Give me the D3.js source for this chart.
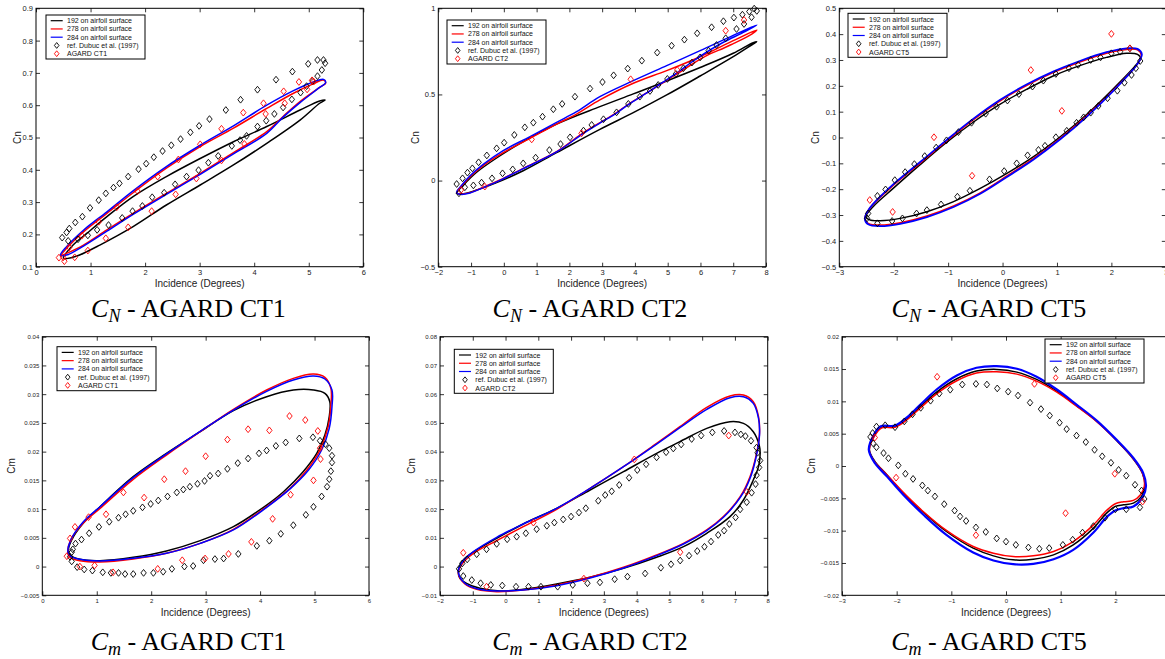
<!DOCTYPE html>
<html><head><meta charset="utf-8">
<script src="https://cdn.jsdelivr.net/npm/d3@7"></script>
<style>body{margin:0;background:#fff;overflow:hidden}svg{display:block}</style>
</head><body><svg id="c" width="1165" height="659"></svg>
<script>
// ---------------- DATA ----------------
const legendLabels = ["192 on airfoil surface","278 on airfoil surface","284 on airfoil surface","ref. Dubuc et al. (1997)"];
const caseNames = ["CT1","CT2","CT5"];

// CN - CT1
const cnCT1_xTicks = [0,1,2,3,4,5,6];
const cnCT1_yTicks = [0.1,0.2,0.3,0.4,0.5,0.6,0.7,0.8,0.9];
const cnCT1_ref = [[0.48,0.190],[0.56,0.206],[0.61,0.218],[0.72,0.237],[0.85,0.255],[0.99,0.282],[1.15,0.306],[1.28,0.327],[1.42,0.345],[1.53,0.358],[1.69,0.379],[1.88,0.402],[2.02,0.419],[2.16,0.439],[2.32,0.458],[2.48,0.476],[2.65,0.495],[2.83,0.516],[2.99,0.536],[3.18,0.557],[3.48,0.585],[3.75,0.617],[4.06,0.648],[4.40,0.679],[4.70,0.704],[4.99,0.728],[5.16,0.740],[5.27,0.740],[5.30,0.730],[5.24,0.709],[5.16,0.690],[5.07,0.675],[4.96,0.659],[4.85,0.639],[4.69,0.618],[4.53,0.593],[4.37,0.573],[4.22,0.552],[4.06,0.534],[3.86,0.505],[3.74,0.492],[3.59,0.474],[3.34,0.443],[3.16,0.422],[2.98,0.399],[2.76,0.379],[2.55,0.355],[2.35,0.329],[2.13,0.315],[1.95,0.288],[1.77,0.272],[1.58,0.251],[1.33,0.229],[1.12,0.214],[0.95,0.197],[0.77,0.185],[0.59,0.180]];
const cnCT1_agard = [[0.42,0.128],[0.52,0.117],[0.50,0.129],[0.61,0.160],[0.71,0.129],[0.84,0.196],[0.95,0.150],[1.15,0.239],[1.28,0.188],[1.48,0.284],[1.69,0.222],[1.86,0.334],[2.12,0.272],[2.23,0.379],[2.56,0.324],[2.61,0.432],[2.94,0.373],[3.01,0.479],[3.40,0.429],[3.40,0.527],[3.82,0.480],[3.80,0.577],[4.21,0.573],[4.17,0.606],[4.54,0.643],[4.56,0.606],[4.82,0.672],[4.97,0.649],[5.06,0.677],[5.09,0.673]];
const cnCT1_192 = [[0.50,0.126],[0.68,0.167],[0.93,0.203],[1.30,0.255],[1.78,0.317],[2.39,0.379],[3.01,0.435],[3.62,0.487],[4.23,0.534],[4.84,0.585],[5.20,0.613],[5.30,0.616],[5.20,0.606],[4.84,0.554],[4.23,0.482],[3.62,0.415],[3.01,0.353],[2.39,0.291],[1.78,0.224],[1.17,0.167],[0.75,0.133],[0.56,0.125]];
const cnCT1_278 = [[0.45,0.133],[0.56,0.157],[0.87,0.208],[1.30,0.265],[1.78,0.329],[2.39,0.405],[3.01,0.472],[3.62,0.529],[4.23,0.590],[4.72,0.637],[5.08,0.666],[5.27,0.678],[5.31,0.668],[5.20,0.655],[4.84,0.611],[4.53,0.565],[4.23,0.518],[3.62,0.453],[3.01,0.389],[2.39,0.327],[1.78,0.265],[1.30,0.214],[0.87,0.167],[0.56,0.141]];
const cnCT1_284 = [[0.45,0.136],[0.56,0.162],[0.87,0.213],[1.30,0.270],[1.78,0.335],[2.39,0.410],[3.01,0.476],[3.62,0.536],[4.23,0.600],[4.72,0.645],[5.08,0.672],[5.27,0.680],[5.31,0.670],[5.20,0.655],[4.84,0.608],[4.53,0.563],[4.23,0.513],[3.62,0.449],[3.01,0.386],[2.39,0.324],[1.78,0.262],[1.30,0.210],[0.87,0.164],[0.56,0.136]];

// CN - CT2
const cnCT2_xTicks = [-2,-1,0,1,2,3,4,5,6,7,8];
const cnCT2_yTicks = [-0.5,0,0.5,1];
const cnCT2_ref = [[-1.44,-0.020],[-1.26,0.013],[-1.11,0.046],[-0.96,0.071],[-0.77,0.106],[-0.52,0.146],[-0.22,0.187],[0.01,0.220],[0.32,0.265],[0.64,0.309],[0.90,0.336],[1.18,0.371],[1.51,0.414],[1.78,0.445],[2.17,0.487],[2.63,0.534],[3.01,0.572],[3.35,0.611],[3.78,0.650],[4.21,0.696],[4.68,0.743],[5.12,0.783],[5.51,0.818],[5.90,0.855],[6.34,0.890],[6.70,0.925],[7.02,0.946],[7.28,0.963],[7.49,0.981],[7.64,0.998],[7.72,0.985],[7.56,0.948],[7.33,0.909],[7.10,0.880],[6.77,0.826],[6.49,0.787],[6.25,0.754],[5.99,0.715],[5.74,0.685],[5.48,0.652],[5.25,0.619],[4.99,0.590],[4.71,0.555],[4.46,0.520],[4.15,0.487],[3.80,0.445],[3.44,0.396],[3.04,0.356],[2.68,0.323],[2.43,0.290],[2.02,0.251],[1.73,0.212],[1.39,0.177],[0.97,0.133],[0.59,0.100],[0.27,0.065],[-0.04,0.042],[-0.36,0.013],[-0.68,-0.012],[-0.93,-0.028],[-1.19,-0.039],[-1.37,-0.074]];
const cnCT2_agard = [[-1.31,-0.055],[-0.58,-0.035],[0.85,0.239],[2.37,0.274],[3.87,0.588],[5.29,0.642],[6.77,0.870],[7.33,0.932]];
const cnCT2_192 = [[-1.44,-0.074],[-1.24,-0.028],[-0.83,0.048],[-0.22,0.131],[0.59,0.226],[1.61,0.328],[2.93,0.429],[3.95,0.503],[4.97,0.578],[5.99,0.656],[7.00,0.739],[7.61,0.801],[7.72,0.806],[7.56,0.787],[7.00,0.719],[5.99,0.607],[4.97,0.497],[3.95,0.394],[2.93,0.297],[1.61,0.162],[0.59,0.057],[-0.22,-0.012],[-0.83,-0.055],[-1.29,-0.078]];
const cnCT2_278 = [[-1.44,-0.070],[-1.29,-0.032],[-1.03,0.023],[-0.63,0.087],[-0.02,0.162],[0.80,0.245],[1.61,0.328],[2.22,0.386],[2.93,0.468],[3.95,0.565],[4.97,0.638],[5.99,0.719],[7.00,0.812],[7.72,0.874],[7.46,0.838],[7.00,0.795],[6.70,0.768],[6.29,0.735],[5.68,0.668],[5.38,0.630],[4.99,0.585],[4.46,0.520],[3.80,0.443],[3.44,0.394],[3.04,0.348],[2.43,0.278],[1.61,0.168],[0.59,0.071],[-0.12,0.003],[-0.63,-0.039],[-1.03,-0.070],[-1.32,-0.078]];
const cnCT2_284 = [[-1.44,-0.070],[-1.29,-0.028],[-1.03,0.028],[-0.63,0.094],[-0.02,0.174],[0.80,0.255],[1.61,0.338],[2.22,0.400],[2.93,0.487],[3.95,0.580],[4.97,0.667],[5.99,0.754],[7.00,0.843],[7.72,0.903],[7.36,0.865],[6.70,0.803],[6.29,0.758],[5.68,0.681],[5.38,0.638],[4.99,0.588],[4.46,0.520],[3.80,0.441],[3.44,0.392],[3.04,0.346],[2.43,0.274],[1.61,0.166],[0.59,0.069],[-0.12,0.001],[-0.63,-0.041],[-1.03,-0.072],[-1.32,-0.080]];

// CN - CT5
const cnCT5_xTicks = [-3,-2,-1,0,1,2,3];
const cnCT5_yTicks = [-0.5,-0.4,-0.3,-0.2,-0.1,0,0.1,0.2,0.3,0.4,0.5];
const cnCT5_ref = [[-2.49,-0.313],[-2.47,-0.294],[-2.30,-0.226],[-2.15,-0.201],[-1.98,-0.165],[-1.79,-0.134],[-1.62,-0.103],[-1.43,-0.072],[-1.22,-0.039],[-1.03,-0.011],[-0.81,0.021],[-0.57,0.057],[-0.31,0.092],[-0.11,0.119],[0.09,0.143],[0.30,0.168],[0.55,0.197],[0.75,0.220],[0.98,0.246],[1.22,0.268],[1.39,0.281],[1.62,0.300],[1.80,0.310],[2.00,0.326],[2.16,0.332],[2.34,0.345],[2.53,0.296],[2.45,0.268],[2.37,0.242],[2.24,0.212],[2.11,0.181],[1.93,0.152],[1.76,0.122],[1.62,0.096],[1.49,0.078],[1.36,0.057],[1.18,0.026],[0.98,0.001],[0.78,-0.032],[0.66,-0.048],[0.46,-0.069],[0.26,-0.100],[0.03,-0.130],[-0.24,-0.162],[-0.60,-0.206],[-0.83,-0.229],[-1.13,-0.259],[-1.39,-0.281],[-1.58,-0.294],[-1.84,-0.313],[-2.03,-0.323],[-2.30,-0.332]];
const cnCT5_agard = [[-2.44,-0.242],[-2.02,-0.288],[-1.26,0.001],[-0.56,-0.148],[0.52,0.261],[1.09,0.103],[2.00,0.401],[2.34,0.345]];
const cnCT5_192 = [[-2.51,-0.306],[-2.38,-0.268],[-2.01,-0.197],[-1.52,-0.106],[-1.03,-0.019],[-0.54,0.059],[-0.05,0.128],[0.44,0.186],[0.93,0.238],[1.42,0.278],[1.91,0.310],[2.28,0.326],[2.48,0.322],[2.54,0.306],[2.47,0.285],[2.04,0.190],[1.55,0.090],[1.06,0.003],[0.57,-0.074],[0.08,-0.139],[-0.41,-0.197],[-0.90,-0.248],[-1.39,-0.287],[-1.88,-0.313],[-2.25,-0.322],[-2.44,-0.319]];
const cnCT5_278 = [[-2.53,-0.313],[-2.44,-0.274],[-2.07,-0.197],[-1.52,-0.100],[-1.03,-0.014],[-0.54,0.068],[-0.05,0.141],[0.44,0.201],[0.93,0.251],[1.42,0.292],[1.91,0.326],[2.28,0.341],[2.48,0.339],[2.55,0.319],[2.48,0.285],[2.04,0.184],[1.55,0.085],[1.06,-0.003],[0.57,-0.081],[0.08,-0.149],[-0.41,-0.214],[-0.90,-0.265],[-1.39,-0.304],[-1.88,-0.330],[-2.25,-0.339],[-2.47,-0.332]];
const cnCT5_284 = [[-2.53,-0.315],[-2.44,-0.273],[-2.07,-0.193],[-1.52,-0.096],[-1.03,-0.010],[-0.54,0.072],[-0.05,0.145],[0.44,0.205],[0.93,0.255],[1.42,0.296],[1.91,0.330],[2.28,0.345],[2.48,0.343],[2.56,0.322],[2.48,0.285],[2.04,0.181],[1.55,0.081],[1.06,-0.007],[0.57,-0.085],[0.08,-0.153],[-0.41,-0.218],[-0.90,-0.269],[-1.39,-0.308],[-1.88,-0.334],[-2.25,-0.343],[-2.47,-0.336]];

// Cm - CT1
const cmCT1_xTicks = [0,1,2,3,4,5,6];
const cmCT1_yTicks = [-0.005,0,0.005,0.01,0.015,0.02,0.025,0.03,0.035,0.04];
const cmCT1_ref = [[0.51,0.0017],[0.54,0.0025],[0.56,0.0030],[0.61,0.0040],[0.72,0.0047],[0.86,0.0058],[1.04,0.0069],[1.23,0.0078],[1.40,0.0085],[1.53,0.0091],[1.67,0.0097],[1.84,0.0103],[1.99,0.0109],[2.13,0.0115],[2.30,0.0122],[2.47,0.0129],[2.59,0.0134],[2.71,0.0139],[2.85,0.0144],[2.98,0.0149],[3.08,0.0158],[3.23,0.0162],[3.40,0.0170],[3.59,0.0180],[3.78,0.0188],[3.98,0.0197],[4.12,0.0202],[4.29,0.0210],[4.47,0.0216],[4.72,0.0223],[4.97,0.0225],[5.10,0.0219],[5.20,0.0213],[5.27,0.0206],[5.32,0.0193],[5.32,0.0181],[5.30,0.0166],[5.27,0.0152],[5.23,0.0139],[5.13,0.0122],[4.98,0.0104],[4.84,0.0090],[4.61,0.0072],[4.38,0.0057],[4.17,0.0045],[3.94,0.0036],[3.60,0.0022],[3.33,0.0014],[3.17,0.0013],[2.96,0.0011],[2.77,0.0001],[2.61,0.0000],[2.38,-0.0004],[2.22,-0.0009],[2.04,-0.0011],[1.86,-0.0011],[1.67,-0.0013],[1.52,-0.0013],[1.40,-0.0011],[1.26,-0.0011],[1.11,-0.0010],[0.92,-0.0007],[0.77,-0.0005],[0.64,-0.0001],[0.54,0.0009]];
const cmCT1_agard = [[0.45,0.0018],[0.51,0.0049],[0.60,0.0069],[0.69,0.0000],[0.85,0.0086],[0.96,0.0002],[1.17,0.0091],[1.30,-0.0010],[1.49,0.0129],[1.87,0.0120],[2.12,-0.0004],[2.24,0.0152],[2.57,0.0011],[2.63,0.0166],[2.99,0.0014],[3.00,0.0192],[3.42,0.0022],[3.40,0.0221],[3.84,0.0043],[3.78,0.0239],[4.23,0.0083],[4.17,0.0237],[4.56,0.0125],[4.54,0.0262],[4.83,0.0255],[4.98,0.0150],[5.06,0.0236],[5.10,0.0206],[5.11,0.0187]];
const cmCT1_192 = [[0.48,0.00289],[0.54,0.00463],[0.75,0.00753],[1.06,0.01042],[1.67,0.01564],[2.28,0.01970],[2.90,0.02347],[3.51,0.02713],[4.12,0.02956],[4.61,0.03072],[4.98,0.03072],[5.19,0.03014],[5.28,0.02869],[5.27,0.02608],[5.19,0.02289],[5.04,0.01970],[4.79,0.01651],[4.43,0.01303],[4.12,0.01071],[3.51,0.00694],[2.90,0.00451],[2.28,0.00271],[1.67,0.00161],[1.06,0.00103],[0.69,0.00126],[0.51,0.00202]];
const cmCT1_278 = [[0.47,0.00231],[0.52,0.00463],[0.75,0.00753],[1.06,0.01013],[1.67,0.01518],[2.28,0.01941],[2.90,0.02347],[3.51,0.02736],[4.12,0.03072],[4.61,0.03275],[4.98,0.03350],[5.19,0.03293],[5.30,0.03101],[5.30,0.02811],[5.25,0.02434],[5.10,0.02028],[4.86,0.01680],[4.55,0.01361],[4.12,0.01042],[3.51,0.00648],[2.90,0.00404],[2.28,0.00231],[1.67,0.00132],[1.06,0.00080],[0.69,0.00103],[0.51,0.00161]];
const cmCT1_284 = [[0.47,0.00260],[0.53,0.00474],[0.75,0.00776],[1.06,0.01042],[1.67,0.01547],[2.28,0.01959],[2.90,0.02353],[3.51,0.02724],[4.12,0.03049],[4.61,0.03246],[4.98,0.03316],[5.19,0.03264],[5.32,0.03072],[5.32,0.02782],[5.27,0.02405],[5.13,0.02028],[4.89,0.01680],[4.56,0.01361],[4.12,0.01031],[3.51,0.00637],[2.90,0.00404],[2.28,0.00231],[1.67,0.00144],[1.06,0.00097],[0.69,0.00126],[0.51,0.00184]];

// Cm - CT2
const cmCT2_xTicks = [-2,-1,0,1,2,3,4,5,6,7,8];
const cmCT2_yTicks = [-0.01,0,0.01,0.02,0.03,0.04,0.05,0.06,0.07,0.08];
const cmCT2_ref = [[-1.42,-0.0008],[-1.32,0.0011],[-1.17,0.0025],[-0.88,0.0043],[-0.58,0.0060],[-0.27,0.0079],[0.05,0.0095],[0.34,0.0104],[0.62,0.0116],[0.95,0.0130],[1.26,0.0142],[1.49,0.0153],[1.76,0.0164],[2.00,0.0174],[2.24,0.0188],[2.45,0.0203],[2.83,0.0229],[3.04,0.0249],[3.24,0.0262],[3.47,0.0284],[3.77,0.0309],[4.02,0.0336],[4.29,0.0356],[4.61,0.0380],[4.90,0.0398],[5.12,0.0411],[5.36,0.0425],[5.68,0.0444],[5.97,0.0456],[6.31,0.0467],[6.67,0.0472],[7.00,0.0467],[7.18,0.0460],[7.32,0.0454],[7.49,0.0438],[7.66,0.0414],[7.69,0.0396],[7.77,0.0369],[7.74,0.0345],[7.66,0.0318],[7.63,0.0287],[7.51,0.0257],[7.36,0.0224],[7.16,0.0199],[7.02,0.0171],[6.83,0.0148],[6.67,0.0125],[6.49,0.0110],[6.27,0.0087],[6.07,0.0069],[5.85,0.0054],[5.60,0.0038],[5.33,0.0021],[5.05,0.0008],[4.74,-0.0004],[4.26,-0.0024],[3.72,-0.0035],[3.33,-0.0044],[2.88,-0.0055],[2.50,-0.0058],[2.05,-0.0064],[1.59,-0.0070],[1.08,-0.0070],[0.70,-0.0070],[0.32,-0.0070],[-0.10,-0.0066],[-0.45,-0.0064],[-0.76,-0.0058],[-1.03,-0.0047],[-1.29,-0.0033]];
const cmCT2_agard = [[-1.29,0.0048],[-0.58,-0.0070],[0.85,0.0153],[2.39,-0.0042],[3.93,0.0373],[5.33,0.0050],[6.81,0.0456],[7.36,0.0260]];
const cmCT2_192 = [[-1.44,-0.00119],[-1.29,0.00229],[-0.88,0.00577],[-0.27,0.00983],[0.54,0.01482],[1.56,0.02027],[2.58,0.02665],[3.60,0.03303],[4.61,0.03941],[5.32,0.04347],[6.14,0.04810],[6.85,0.05042],[7.26,0.04984],[7.56,0.04694],[7.74,0.04231],[7.77,0.03941],[7.72,0.03477],[7.56,0.03013],[7.26,0.02317],[6.85,0.01737],[6.14,0.01157],[5.43,0.00693],[4.61,0.00322],[3.60,-0.00061],[2.58,-0.00374],[1.56,-0.00606],[0.54,-0.00792],[-0.17,-0.00850],[-0.78,-0.00757],[-1.19,-0.00583],[-1.39,-0.00409]];
const cmCT2_278 = [[-1.44,-0.00235],[-1.31,0.00113],[-0.98,0.00461],[-0.27,0.00902],[0.54,0.01389],[1.56,0.01992],[2.58,0.02723],[3.60,0.03477],[4.61,0.04289],[5.32,0.04868],[6.14,0.05541],[6.85,0.05936],[7.26,0.05970],[7.56,0.05738],[7.72,0.05216],[7.75,0.04636],[7.66,0.03941],[7.46,0.03129],[7.16,0.02433],[6.65,0.01737],[6.14,0.01273],[5.43,0.00809],[4.61,0.00403],[3.60,-0.00026],[2.58,-0.00374],[1.56,-0.00641],[0.54,-0.00815],[-0.27,-0.00873],[-0.88,-0.00792],[-1.24,-0.00606]];
const cmCT2_284 = [[-1.44,-0.00177],[-1.31,0.00171],[-0.98,0.00519],[-0.27,0.01018],[0.54,0.01482],[1.56,0.02027],[2.58,0.02723],[3.60,0.03477],[4.61,0.04265],[5.32,0.04834],[6.14,0.05471],[6.85,0.05878],[7.26,0.05912],[7.56,0.05680],[7.72,0.05158],[7.75,0.04579],[7.66,0.03883],[7.48,0.03129],[7.18,0.02433],[6.65,0.01714],[6.14,0.01250],[5.43,0.00786],[4.61,0.00380],[3.60,-0.00049],[2.58,-0.00397],[1.56,-0.00664],[0.54,-0.00815],[-0.27,-0.00850],[-0.88,-0.00769],[-1.24,-0.00583]];

// Cm - CT5
const cmCT5_xTicks = [-3,-2,-1,0,1,2];
const cmCT5_yTicks = [-0.02,-0.015,-0.01,-0.005,0,0.005,0.01,0.015,0.02];
const cmCT5_ref = [[-2.48,0.0045],[-2.44,0.0051],[-2.37,0.0061],[-2.21,0.0063],[-2.03,0.0060],[-1.86,0.0069],[-1.71,0.0080],[-1.56,0.0090],[-1.38,0.0101],[-1.22,0.0112],[-1.02,0.0118],[-0.80,0.0126],[-0.55,0.0127],[-0.35,0.0126],[-0.16,0.0120],[0.04,0.0115],[0.22,0.0109],[0.44,0.0098],[0.64,0.0088],[0.80,0.0078],[0.98,0.0067],[1.11,0.0057],[1.29,0.0047],[1.46,0.0037],[1.62,0.0025],[1.76,0.0015],[1.92,0.0005],[2.06,-0.0006],[2.20,-0.0015],[2.36,-0.0029],[2.48,-0.0038],[2.53,-0.0051],[2.45,-0.0064],[2.20,-0.0067],[2.00,-0.0067],[1.81,-0.0080],[1.60,-0.0093],[1.40,-0.0103],[1.22,-0.0114],[1.04,-0.0122],[0.79,-0.0127],[0.61,-0.0128],[0.41,-0.0126],[0.18,-0.0122],[0.00,-0.0117],[-0.17,-0.0112],[-0.37,-0.0102],[-0.55,-0.0095],[-0.73,-0.0085],[-0.84,-0.0078],[-0.94,-0.0069],[-1.13,-0.0059],[-1.30,-0.0047],[-1.43,-0.0038],[-1.53,-0.0030],[-1.70,-0.0020],[-1.84,-0.0012],[-1.97,0.0001],[-2.15,0.0012],[-2.24,0.0020],[-2.37,0.0029],[-2.43,0.0035]];
const cmCT5_agard = [[-2.40,0.0044],[-2.01,-0.0018],[-1.26,0.0138],[-0.55,-0.0107],[0.52,0.0127],[1.09,-0.0073],[1.99,-0.0012],[2.50,-0.0055]];
const cmCT5_192 = [[-2.50,0.00253],[-2.40,0.00486],[-2.27,0.00605],[-2.03,0.00615],[-1.83,0.00718],[-1.57,0.00915],[-1.27,0.01142],[-0.90,0.01349],[-0.54,0.01468],[-0.17,0.01494],[0.20,0.01452],[0.56,0.01339],[0.93,0.01158],[1.29,0.00935],[1.66,0.00692],[2.02,0.00398],[2.33,0.00109],[2.50,-0.00119],[2.54,-0.00315],[2.48,-0.00470],[2.33,-0.00574],[2.15,-0.00600],[2.00,-0.00625],[1.84,-0.00729],[1.60,-0.00961],[1.23,-0.01220],[0.87,-0.01375],[0.50,-0.01442],[0.13,-0.01452],[-0.23,-0.01390],[-0.60,-0.01271],[-1.09,-0.01013],[-1.51,-0.00718],[-1.88,-0.00419],[-2.18,-0.00134],[-2.40,0.00072]];
const cmCT5_278 = [[-2.50,0.00243],[-2.40,0.00470],[-2.27,0.00589],[-2.03,0.00599],[-1.83,0.00703],[-1.57,0.00894],[-1.27,0.01116],[-0.90,0.01318],[-0.54,0.01437],[-0.17,0.01457],[0.20,0.01421],[0.56,0.01313],[0.93,0.01142],[1.29,0.00925],[1.66,0.00687],[2.02,0.00398],[2.33,0.00109],[2.50,-0.00119],[2.53,-0.00315],[2.46,-0.00444],[2.33,-0.00532],[2.15,-0.00553],[2.00,-0.00584],[1.84,-0.00687],[1.60,-0.00910],[1.23,-0.01168],[0.87,-0.01323],[0.50,-0.01390],[0.13,-0.01401],[-0.23,-0.01349],[-0.60,-0.01245],[-1.09,-0.00997],[-1.51,-0.00708],[-1.88,-0.00408],[-2.18,-0.00134],[-2.40,0.00062]];
const cmCT5_284 = [[-2.51,0.00253],[-2.41,0.00496],[-2.29,0.00615],[-2.03,0.00625],[-1.83,0.00739],[-1.57,0.00946],[-1.27,0.01183],[-0.90,0.01401],[-0.54,0.01519],[-0.17,0.01545],[0.20,0.01504],[0.56,0.01380],[0.93,0.01183],[1.29,0.00951],[1.66,0.00703],[2.02,0.00408],[2.33,0.00124],[2.51,-0.00109],[2.56,-0.00315],[2.50,-0.00481],[2.33,-0.00625],[2.15,-0.00651],[2.00,-0.00687],[1.84,-0.00791],[1.60,-0.01028],[1.23,-0.01297],[0.87,-0.01442],[0.50,-0.01514],[0.13,-0.01519],[-0.23,-0.01462],[-0.60,-0.01338],[-1.09,-0.01065],[-1.51,-0.00754],[-1.88,-0.00444],[-2.18,-0.00160],[-2.40,0.00047]];

// ---------------- LAYOUT ----------------
const panels = [
  {ref:cnCT1_ref, agard:cnCT1_agard, lines:[cnCT1_192,cnCT1_278,cnCT1_284], xt:cnCT1_xTicks, yt:cnCT1_yTicks, xd:[0,6], yd:[0.1,0.9], ylab:"Cn", sub:"N", ci:0, box:[36,8.3,363.3,266.7], leg:[46,15], ylx:17, row:0, cap:188.5, bw:1.5},
  {ref:cnCT2_ref, agard:cnCT2_agard, lines:[cnCT2_192,cnCT2_278,cnCT2_284], xt:cnCT2_xTicks, yt:cnCT2_yTicks, xd:[-2,8], yd:[-0.5,1], ylab:"Cn", sub:"N", ci:1, box:[438.3,8.3,766,266.7], leg:[447,20], ylx:415, row:0, cap:590, bw:1.5},
  {ref:cnCT5_ref, agard:cnCT5_agard, lines:[cnCT5_192,cnCT5_278,cnCT5_284], xt:cnCT5_xTicks, yt:cnCT5_yTicks, xd:[-3,3], yd:[-0.5,0.5], ylab:"Cn", sub:"N", ci:2, box:[839.3,8.3,1165.8,266.7], leg:[848,13.3], ylx:815, row:0, cap:989, bw:1.8},
  {ref:cmCT1_ref, agard:cmCT1_agard, lines:[cmCT1_192,cmCT1_278,cmCT1_284], xt:cmCT1_xTicks, yt:cmCT1_yTicks, xd:[0,6], yd:[-0.005,0.04], ylab:"Cm", sub:"m", ci:0, box:[42.3,336.7,369,595.3], leg:[57,346.7], ylx:11.7, row:1, cap:188.5, bw:1.5},
  {ref:cmCT2_ref, agard:cmCT2_agard, lines:[cmCT2_192,cmCT2_278,cmCT2_284], xt:cmCT2_xTicks, yt:cmCT2_yTicks, xd:[-2,8], yd:[-0.01,0.08], ylab:"Cm", sub:"m", ci:1, box:[440,336.7,767.7,595.3], leg:[454.3,349.3], ylx:411.7, row:1, cap:590, bw:1.5},
  {ref:cmCT5_ref, agard:cmCT5_agard, lines:[cmCT5_192,cmCT5_278,cmCT5_284], xt:cmCT5_xTicks, yt:cmCT5_yTicks, xd:[-3,3], yd:[-0.02,0.02], ylab:"Cm", sub:"m", ci:2, box:[842,336.7,1170,595.3], leg:[1045,339], ylx:811.7, row:1, cap:989, bw:2.2}
];
const lineColors = ["#000000","#ff0000","#0000ff"];
const SANS = "'Liberation Sans', Arial, sans-serif";
const SERIF = "'Liberation Serif', 'Times New Roman', serif";
const fmt = v => (v < 0 ? "\u2212" : "") + String(Math.abs(v));
const diamond = "M0,-3.4L2.7,0L0,3.4L-2.7,0Z";

const svg = d3.select("#c");
svg.append("rect").attr("width",1165).attr("height",659).attr("fill","#fff");

panels.forEach(p => {
  const [L,T,R,B] = p.box;
  const x = d3.scaleLinear().domain(p.xd).range([L,R]);
  const y = d3.scaleLinear().domain(p.yd).range([B,T]);
  const g = svg.append("g");
  const tickFont = p.row === 0 ? 7.5 : 6;

  const styleAxis = sel => {
    sel.select(".domain").remove();
    sel.selectAll("line").attr("stroke","#000").attr("stroke-width",0.8);
    sel.selectAll("text").attr("font-family",SANS).attr("font-size",tickFont).attr("fill","#222");
  };
  g.append("g").attr("transform",`translate(0,${B})`)
    .call(d3.axisBottom(x).tickValues(p.xt).tickFormat(fmt).tickSizeInner(-4).tickSizeOuter(0).tickPadding(3)).call(styleAxis);
  g.append("g").attr("transform",`translate(0,${T})`)
    .call(d3.axisTop(x).tickValues(p.xt).tickFormat("").tickSizeInner(-4).tickSizeOuter(0)).call(styleAxis);
  g.append("g").attr("transform",`translate(${L},0)`)
    .call(d3.axisLeft(y).tickValues(p.yt).tickFormat(fmt).tickSizeInner(-4).tickSizeOuter(0).tickPadding(3)).call(styleAxis);
  g.append("g").attr("transform",`translate(${R},0)`)
    .call(d3.axisRight(y).tickValues(p.yt).tickFormat("").tickSizeInner(-4).tickSizeOuter(0)).call(styleAxis);

  const line = d3.line().x(d => x(d[0])).y(d => y(d[1])).curve(d3.curveCatmullRomClosed.alpha(0.5));
  p.lines.forEach((ln,i) => {
    g.append("path").attr("d",line(ln)).attr("fill","none")
      .attr("stroke",lineColors[i]).attr("stroke-width", i === 2 ? p.bw : 1.5);
  });
  g.selectAll(null).data(p.ref).join("path").attr("d",diamond)
    .attr("transform",d => `translate(${x(d[0])},${y(d[1])})`)
    .attr("fill","none").attr("stroke","#000").attr("stroke-width",0.9);
  g.selectAll(null).data(p.agard).join("path").attr("d",diamond)
    .attr("transform",d => `translate(${x(d[0])},${y(d[1])})`)
    .attr("fill","none").attr("stroke","#ff0000").attr("stroke-width",0.9);

  g.append("rect").attr("x",L).attr("y",T).attr("width",R-L).attr("height",B-T)
    .attr("fill","none").attr("stroke","#000").attr("stroke-width",1);

  // axis labels
  const xlY = p.row === 0 ? 287 : 615.5;
  g.append("text").attr("x",(L+R)/2).attr("y",xlY).attr("text-anchor","middle")
    .attr("font-family",SANS).attr("font-size",10).attr("fill","#222").text("Incidence (Degrees)");
  g.append("text").attr("transform",`translate(${p.ylx},${(T+B)/2}) rotate(-90)`)
    .attr("text-anchor","middle").attr("dominant-baseline","central")
    .attr("font-family",SANS).attr("font-size",10).attr("fill","#222").text(p.ylab);

  // legend
  const [lx,ly] = p.leg;
  const lg = g.append("g");
  lg.append("rect").attr("x",lx).attr("y",ly).attr("width",99).attr("height",44)
    .attr("fill","#fff").attr("stroke","#000").attr("stroke-width",1);
  const labels = legendLabels.concat(["AGARD " + caseNames[p.ci]]);
  labels.forEach((t,i) => {
    const yy = ly + 5.7 + i*8.25;
    if (i < 3) {
      lg.append("line").attr("x1",lx+4.7).attr("x2",lx+16.7).attr("y1",yy).attr("y2",yy)
        .attr("stroke",lineColors[i]).attr("stroke-width",1.2);
    } else {
      lg.append("path").attr("d","M0,-2.9L2.3,0L0,2.9L-2.3,0Z").attr("transform",`translate(${lx+10.7},${yy})`)
        .attr("fill","none").attr("stroke", i===3 ? "#000" : "#ff0000").attr("stroke-width",0.9);
    }
    lg.append("text").attr("x",lx+21).attr("y",yy).attr("dominant-baseline","central")
      .attr("font-family",SANS).attr("font-size",7).attr("fill","#111").text(t);
  });

  // caption
  const capY = p.row === 0 ? 316.5 : 650;
  const cap = svg.append("text").attr("x",p.cap).attr("y",capY).attr("text-anchor","middle")
    .attr("font-family",SERIF).attr("font-size",26).attr("fill","#000");
  cap.append("tspan").attr("font-style","italic").text("C");
  cap.append("tspan").attr("font-style","italic").attr("font-size",18).attr("dy",5).text(p.sub);
  cap.append("tspan").attr("dy",-5).text(" - AGARD " + caseNames[p.ci]);
});
</script></body></html>
